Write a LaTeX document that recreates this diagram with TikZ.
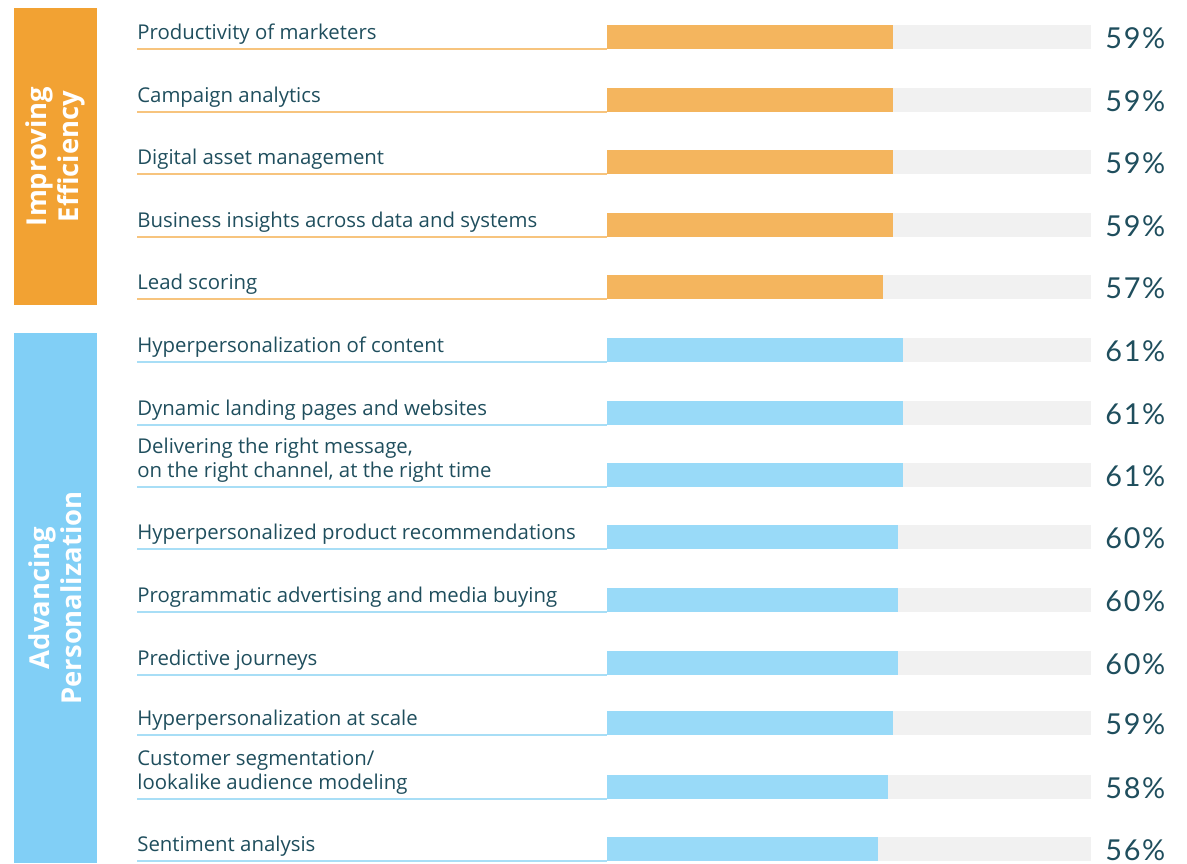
\documentclass[tikz,border=0pt]{standalone}
\usepackage{fontspec}
\setmainfont{Open Sans}
\newfontfamily\pctfont{Lato}[LetterSpace=6]
\definecolor{txt}{HTML}{1F4E5D}
\definecolor{effbox}{HTML}{F2A233}
\definecolor{effbar}{HTML}{F4B55E}
\definecolor{effline}{HTML}{F7C47E}
\definecolor{perbox}{HTML}{81CFF6}
\definecolor{perbar}{HTML}{99DAF8}
\definecolor{perline}{HTML}{A8DEF6}
\definecolor{barbg}{HTML}{F1F1F1}

\begin{document}
\begin{tikzpicture}[x=0.02cm, y=-0.02cm,
  group/.style={rotate=90, inner sep=0, text=white, align=center, minimum height=1.66cm,
    font=\fontsize{15.6}{18.2}\selectfont\bfseries},
  item/.style={anchor=base west, inner sep=0, text=txt, align=left,
    font=\fontsize{11.6}{13.4}\selectfont},
  track/.style={anchor=south west, inner sep=0, fill=barbg, minimum height=0.48cm, minimum width=9.68cm},
  share/.style={anchor=south west, inner sep=0, minimum height=0.48cm},
  pct/.style={anchor=base west, inner sep=0, text=txt, font=\pctfont\fontsize{16.4}{19}\selectfont},
  uline/.style={line width=0.85pt}]
  \useasboundingbox (0,0) rectangle (1187,863);

  \node (eff) [group, fill=effbox, minimum width=5.94cm] at (55.5,156.5) {Improving\\Efficiency};
  \node (per) [group, fill=perbox, minimum width=10.6cm] at (55.5,598) {Advancing\\Personalization};

  \foreach \row/\y/\val/\grp/\lbl in {
    1/49/59/eff/{Productivity of marketers},
    2/112/59/eff/{Campaign analytics},
    3/174/59/eff/{Digital asset management},
    4/237/59/eff/{Business insights across data and systems},
    5/299/57/eff/{Lead scoring},
    6/362/61/per/{Hyperpersonalization of content},
    7/425/61/per/{Dynamic landing pages and websites},
    8/487/61/per/{Delivering the right message,\\on the right channel, at the right time},
    9/549/60/per/{Hyperpersonalized product recommendations},
    10/612/60/per/{Programmatic advertising and media buying},
    11/675/60/per/{Predictive journeys},
    12/735/59/per/{Hyperpersonalization at scale},
    13/799/58/per/{Customer segmentation/\\lookalike audience modeling},
    14/861/56/per/{Sentiment analysis}}{
    \node (bg\row) [track] at (607,\y) {};
    \node (bar\row) [share, fill=\grp bar, minimum width=\val*0.0968cm] at (bg\row.south west) {};
    \node (lbl\row) [item] at (137,\y-10) {\lbl};
    \node (pct\row) [pct] at (1105,\y-1) {\val\%};
    \coordinate (u\row) at (137,\y);
    \draw[uline, \grp line] (u\row) -- (bg\row.south west);
  }
\end{tikzpicture}
\end{document}
